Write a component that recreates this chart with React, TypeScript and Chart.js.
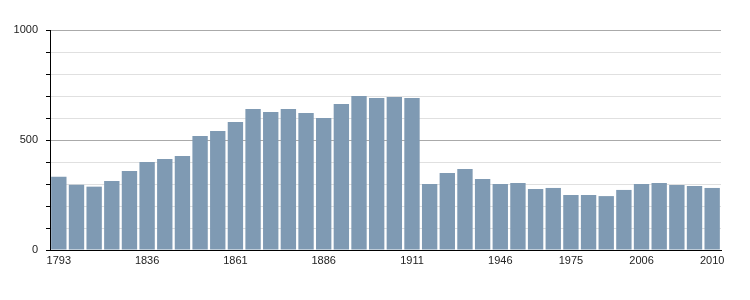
import React, { useEffect, useRef } from "react";
import { Chart, registerables } from "chart.js";

Chart.register(...registerables);

const years: string[] = [
  "1793", "1800", "1806", "1821", "1831", "1836", "1841", "1846", "1851", "1856",
  "1861", "1866", "1872", "1876", "1881", "1886", "1891", "1896", "1901", "1906",
  "1911", "1921", "1926", "1931", "1936", "1946", "1954", "1962", "1968", "1975",
  "1982", "1990", "1999", "2006", "2007", "2008", "2009", "2010",
];

const population: number[] = [
  333, 297, 288, 314, 359, 400, 414, 427, 518, 541,
  582, 641, 627, 641, 623, 600, 664, 700, 691, 695,
  691, 300, 350, 368, 323, 300, 305, 277, 282, 250,
  250, 245, 273, 300, 305, 295, 291, 282,
];

const shownXLabels: string[] = ["1793", "1836", "1861", "1886", "1911", "1946", "1975", "2006", "2010"];
const shownYLabels: number[] = [0, 500, 1000];
const majorGridValues: number[] = [500, 1000];

export default function App() {
  const ref = useRef<HTMLCanvasElement | null>(null);

  useEffect(() => {
    if (!ref.current) return;
    const font = { family: "'Liberation Sans', Arial, sans-serif", size: 11 };
    const chart = new Chart(ref.current, {
      type: "bar",
      data: {
        labels: years,
        datasets: [
          {
            data: population,
            backgroundColor: "#7f9ab3",
            borderWidth: 0,
            barPercentage: 0.87,
            categoryPercentage: 1,
          },
        ],
      },
      options: {
        responsive: false,
        animation: false,
        layout: { padding: { top: 30, right: 29, bottom: 0, left: 0 } },
        plugins: { legend: { display: false }, tooltip: { enabled: false } },
        scales: {
          x: {
            grid: { display: false, drawTicks: false },
            border: { display: true, color: "#000000", width: 1 },
            ticks: {
              autoSkip: false,
              maxRotation: 0,
              minRotation: 0,
              padding: 4,
              color: "#222222",
              font,
              callback: (_v: any, i: number) => (shownXLabels.includes(years[i]) ? years[i] : ""),
            },
            afterFit: (s: any) => {
              s.height = 50;
            },
          },
          y: {
            min: 0,
            max: 1000,
            border: { display: true, color: "#000000", width: 1 },
            grid: {
              color: (ctx: any) =>
                majorGridValues.includes(ctx.tick?.value) ? "#aaaaaa" : ctx.tick?.value === 0 ? "#000000" : "#e0e0e0",
              tickColor: "#000000",
              tickLength: 4,
              drawTicks: true,
            },
            ticks: {
              stepSize: 100,
              padding: 8,
              color: "#222222",
              font,
              callback: (v: any) => (shownYLabels.includes(Number(v)) ? String(v) : ""),
            },
            afterFit: (s: any) => {
              s.width = 50;
            },
          },
        },
      },
    });
    return () => chart.destroy();
  }, []);

  return (
    <div style={{ position: "fixed", left: 0, top: 0, width: 750, height: 300, background: "#ffffff" }}>
      <canvas ref={ref} width={750} height={300} />
    </div>
  );
}
